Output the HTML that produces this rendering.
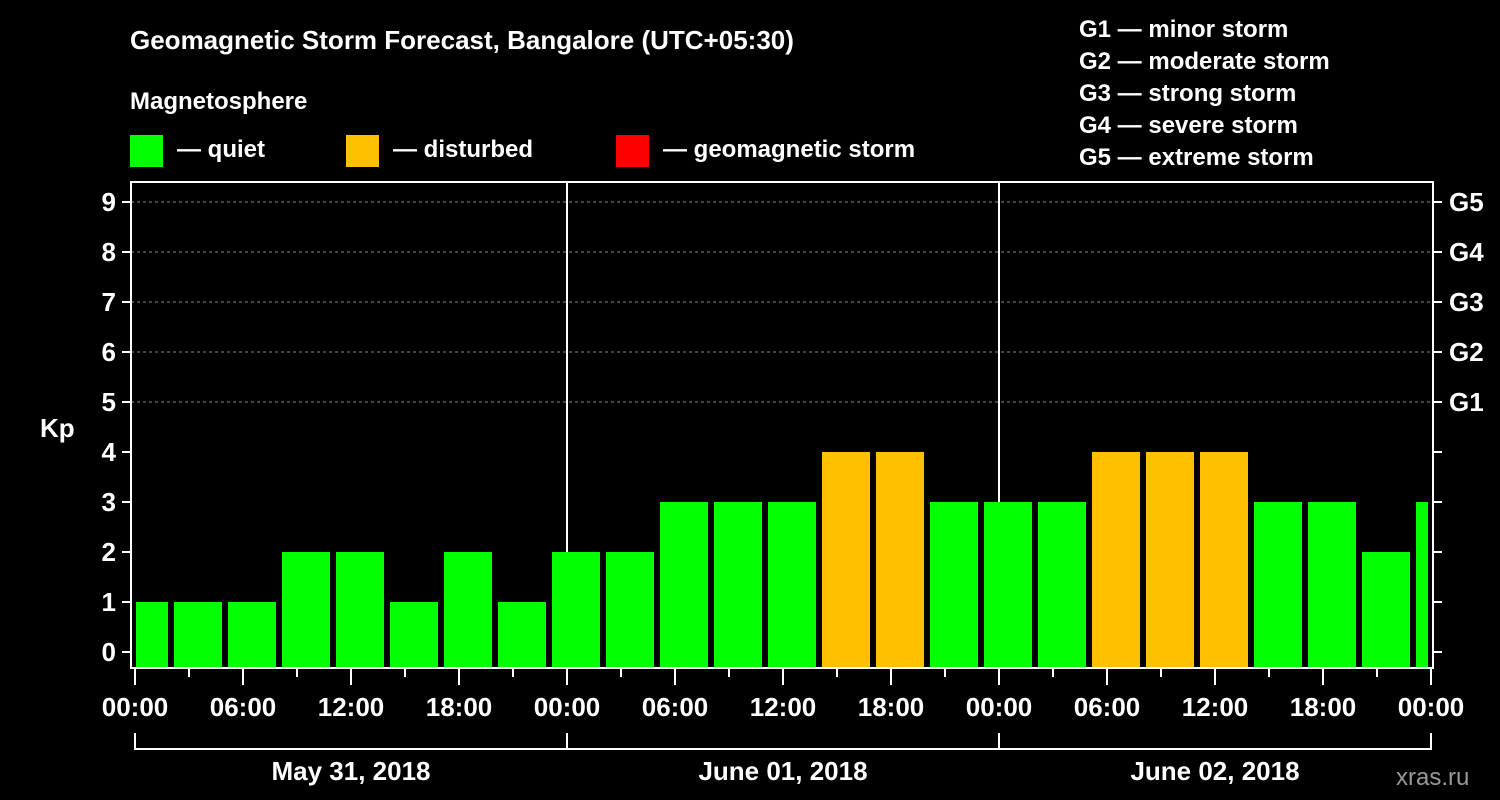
<!DOCTYPE html>
<html><head><meta charset="utf-8"><style>
html,body{margin:0;padding:0;background:#000;}
svg{display:block;font-family:"Liberation Sans",sans-serif;font-weight:bold;}
</style></head><body>
<svg id="chart" width="1500" height="800" viewBox="0 0 1500 800">
<rect x="0" y="0" width="1500" height="800" fill="#000"/>
<text x="130" y="49" fill="#fff" font-size="26">Geomagnetic Storm Forecast, Bangalore (UTC+05:30)</text>
<text x="130" y="109" fill="#fff" font-size="24">Magnetosphere</text>
<g><rect x="130" y="135" width="33" height="32" fill="#00ff00"/><text x="177" y="157" fill="#fff" font-size="24">— quiet</text></g>
<g><rect x="346" y="135" width="33" height="32" fill="#ffc000"/><text x="393" y="157" fill="#fff" font-size="24">— disturbed</text></g>
<g><rect x="616" y="135" width="33" height="32" fill="#ff0000"/><text x="663" y="157" fill="#fff" font-size="24">— geomagnetic storm</text></g>
<g font-size="24" fill="#fff">
<text x="1079" y="37">G1 — minor storm</text>
<text x="1079" y="69">G2 — moderate storm</text>
<text x="1079" y="101">G3 — strong storm</text>
<text x="1079" y="133">G4 — severe storm</text>
<text x="1079" y="165">G5 — extreme storm</text>
</g>
<text x="40" y="437" fill="#fff" font-size="26">Kp</text>
<text x="1396" y="785" fill="#999" font-size="24" font-weight="normal">xras.ru</text>
<g id="grid"></g><g id="bars"></g><g id="axes"></g>
</svg>
<script>
const values = [1,1,1,2,2,1,2,1,2,2,3,3,3,4,4,3,3,3,4,4,4,3,3,2,3];
const xTickLabels = ["00:00","06:00","12:00","18:00","00:00","06:00","12:00","18:00","00:00","06:00","12:00","18:00","00:00"];
const dayLabels = ["May 31, 2018","June 01, 2018","June 02, 2018"];
const gLabels = ["G1","G2","G3","G4","G5"];
const NS="http://www.w3.org/2000/svg";
const L=131,R=1433,T=182,B=668;
const x0=135, pxPerHour=18;
function xs(h){return x0+h*pxPerHour;}
function ys(v){return 652-v*50;}
function mk(tag,attrs,parent){const e=document.createElementNS(NS,tag);for(const k in attrs)e.setAttribute(k,attrs[k]);parent.appendChild(e);return e;}
const grid=document.getElementById('grid'),bars=document.getElementById('bars'),axes=document.getElementById('axes');
for(let v=5;v<=9;v++){
  const ln=mk('line',{x1:L,x2:R,y1:ys(v),y2:ys(v),stroke:'#888','stroke-dasharray':'3,3','stroke-width':1},grid);
  
  
}
[1,2].forEach(d=>{const ln=mk('line',{x1:xs(24*d),x2:xs(24*d),y1:T,y2:B,stroke:'#fff','stroke-width':2},grid);
  
  });
values.forEach((v,i)=>{
  const c=xs(3*i+0.5);
  let a=Math.max(c-24,136),b=Math.min(c+24,1428);
  const col=v>=5?'#ff0000':(v>=4?'#ffc000':'#00ff00');
  const r=mk('rect',{x:a,y:ys(v),width:b-a,height:B-1-ys(v),fill:col},bars);
  
  
});
mk('rect',{x:L,y:T,width:R-L,height:B-T,fill:'none',stroke:'#fff','stroke-width':2},axes);
for(let v=0;v<=9;v++){
  mk('line',{x1:122,x2:L,y1:ys(v),y2:ys(v),stroke:'#fff','stroke-width':2},axes);
  mk('line',{x1:R,x2:1442,y1:ys(v),y2:ys(v),stroke:'#fff','stroke-width':2},axes);
  const t=mk('text',{x:116,y:ys(v)+9,fill:'#fff','font-size':26,'text-anchor':'end'},axes);t.textContent=v;
  
  
}
gLabels.forEach((g,i)=>{const t=mk('text',{x:1449,y:ys(5+i)+9,fill:'#fff','font-size':26},axes);t.textContent=g;
  
  });
for(let h=0;h<=72;h+=3){const major=h%6===0;
  mk('line',{x1:xs(h),x2:xs(h),y1:B,y2:B+(major?17:9),stroke:'#fff','stroke-width':2},axes);}
xTickLabels.forEach((s,i)=>{const t=mk('text',{x:xs(6*i),y:716,fill:'#fff','font-size':26,'text-anchor':'middle'},axes);t.textContent=s;
  
  });
dayLabels.forEach((s,i)=>{
  mk('path',{d:`M${xs(24*i)},733 V749 H${xs(24*i+24)} V733`,fill:'none',stroke:'#fff','stroke-width':2},axes);
  const t=mk('text',{x:xs(24*i+12),y:780,fill:'#fff','font-size':26,'text-anchor':'middle'},axes);t.textContent=s;
  
  
});
</script>
</body></html>
